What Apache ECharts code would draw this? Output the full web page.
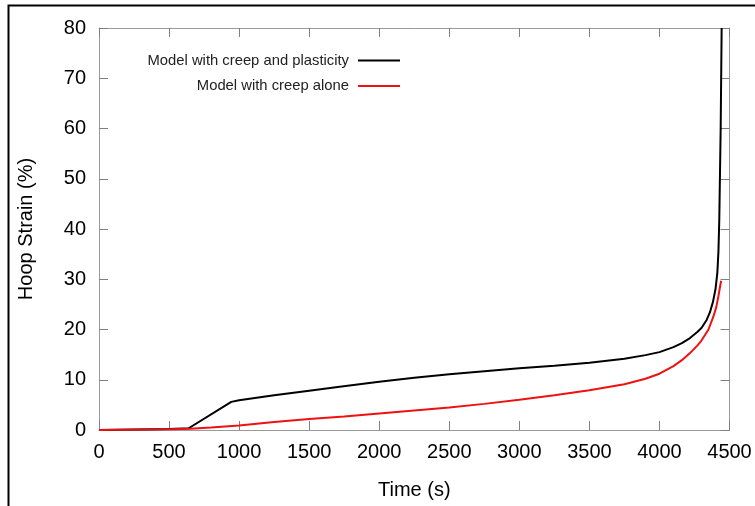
<!DOCTYPE html>
<html>
<head>
<meta charset="utf-8">
<script src="https://cdn.jsdelivr.net/npm/echarts@6/dist/echarts.min.js"></script>
<style>
  html, body { margin: 0; padding: 0; background: #fff; }
  #chart { width: 755px; height: 506px; }
</style>
</head>
<body>
<div id="chart"></div>
<script>
// time (s) and hoop strain (%)
const timePlastic = [0, 250, 500, 640, 944, 1000, 1250, 1500, 1718, 2000, 2250, 2500, 2750, 3000, 3250, 3500, 3750, 3900, 4000, 4100, 4160, 4218, 4270, 4300, 4337, 4360, 4382, 4400, 4413, 4421, 4427, 4437, 4444];
const strainPlastic = [0.0, 0.1, 0.2, 0.35, 5.6, 5.9, 6.9, 7.8, 8.6, 9.6, 10.4, 11.1, 11.7, 12.3, 12.8, 13.4, 14.2, 14.9, 15.5, 16.5, 17.3, 18.3, 19.5, 20.3, 21.9, 23.4, 25.5, 28, 31.2, 35.5, 41.8, 60, 80];

const timeCreep = [0, 500, 650, 800, 1000, 1250, 1500, 1750, 2000, 2250, 2500, 2750, 3000, 3250, 3500, 3750, 3900, 4000, 4100, 4160, 4218, 4270, 4300, 4350, 4384, 4405, 4420, 4440];
const strainCreep = [0.0, 0.15, 0.25, 0.5, 0.9, 1.6, 2.2, 2.7, 3.3, 3.9, 4.5, 5.2, 6.0, 6.9, 7.9, 9.1, 10.2, 11.2, 12.7, 13.9, 15.3, 16.8, 17.8, 20, 22.5, 24.4, 26.5, 29.7];

const nameA = 'Model with creep and plasticity';
const nameB = 'Model with creep alone';

const font = '"Liberation Sans", Arial, sans-serif';
const pairs = (xs, ys) => xs.map((x, i) => [x, ys[i]]);

const chart = echarts.init(document.getElementById('chart'));

const axisBase = {
  type: 'value',
  axisLine: { show: true, onZero: false, lineStyle: { color: '#9a9a9a', width: 1 } },
  axisTick: { show: true, inside: true, length: 9, lineStyle: { color: '#808080' } },
  splitLine: { show: false }
};

const legendText = { fontFamily: font, fontSize: 14.8, color: '#222', padding: [0, 4, 0, 0] };

chart.setOption({
  animation: false,
  grid: { left: 99, right: 25.5, top: 28, bottom: 76, outerBoundsMode: 'none', containLabel: false },
  graphic: [{
    type: 'rect',
    shape: { x: 8.5, y: 5.5, width: 800, height: 600 },
    style: { fill: 'none', stroke: '#000', lineWidth: 2 }
  }],
  legend: [
    {
      data: [nameA], right: 355, top: 53, padding: 0, align: 'right',
      icon: 'rect', itemWidth: 42, itemHeight: 2, textStyle: legendText
    },
    {
      data: [nameB], right: 355, top: 78.5, padding: 0, align: 'right',
      icon: 'rect', itemWidth: 42, itemHeight: 2, textStyle: legendText
    }
  ],
  xAxis: [
    Object.assign({}, axisBase, {
      min: 0, max: 4500, interval: 500, position: 'bottom',
      name: 'Time (s)', nameLocation: 'middle', nameGap: 50,
      nameTextStyle: { fontFamily: font, fontSize: 20, color: '#000' },
      axisLabel: { fontFamily: font, fontSize: 20, color: '#000', margin: 12, formatter: v => String(v) }
    }),
    Object.assign({}, axisBase, {
      min: 0, max: 4500, interval: 500, position: 'top',
      axisLabel: { show: false }
    })
  ],
  yAxis: [
    Object.assign({}, axisBase, {
      min: 0, max: 80, interval: 10, position: 'left',
      name: 'Hoop Strain (%)', nameLocation: 'middle', nameGap: 63,
      nameTextStyle: { fontFamily: font, fontSize: 20, color: '#000' },
      axisLabel: { fontFamily: font, fontSize: 20, color: '#000', margin: 13, formatter: v => String(v) }
    }),
    Object.assign({}, axisBase, {
      min: 0, max: 80, interval: 10, position: 'right',
      axisLabel: { show: false }
    })
  ],
  series: [
    {
      name: nameA, type: 'line', symbol: 'none',
      color: '#000',
      lineStyle: { color: '#000', width: 2 },
      data: pairs(timePlastic, strainPlastic)
    },
    {
      name: nameB, type: 'line', symbol: 'none',
      color: '#ee1111',
      lineStyle: { color: '#ee1111', width: 2 },
      data: pairs(timeCreep, strainCreep)
    }
  ]
});
</script>
</body>
</html>
